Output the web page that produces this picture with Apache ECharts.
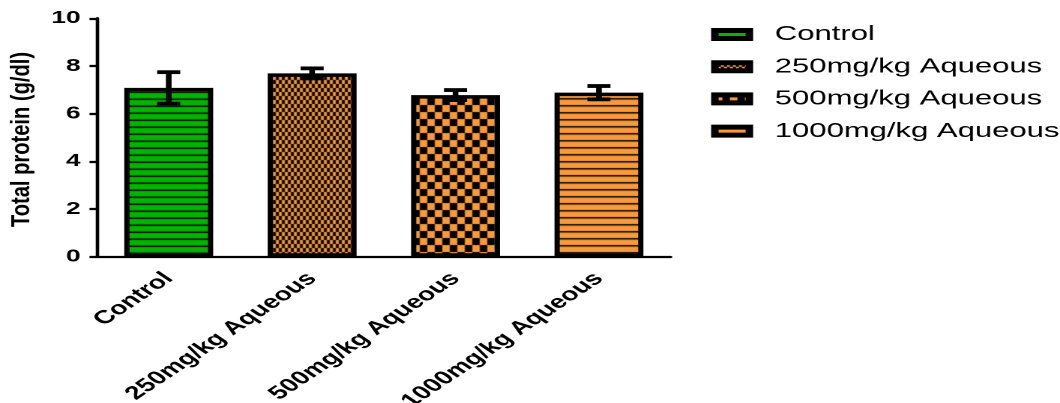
<!DOCTYPE html>
<html>
<head>
<meta charset="utf-8">
<script src="https://cdn.jsdelivr.net/npm/echarts@6/dist/echarts.min.js"></script>
<style>
  html, body { margin: 0; padding: 0; background: #fff; }
  #wrap { width: 1060px; height: 403px; overflow: hidden; position: relative; }
  /* the figure is laid out on a narrower canvas and widened horizontally */
  #chart { width: 707px; height: 403px; transform: scaleX(1.4993); transform-origin: 0 0; }
</style>
</head>
<body>
<div id="wrap"><div id="chart"></div></div>
<script>
// Groups, mean total protein (g/dl) and error (SD)
const categories = ['Control', '250mg/kg Aqueous', '500mg/kg Aqueous', '1000mg/kg Aqueous'];
const means = [7.08, 7.69, 6.78, 6.88];
const errors = [0.66, 0.21, 0.21, 0.28];
const yMin = 0, yMax = 10, yStep = 2;
const yTitle = 'Total protein (g/dl)';

const GREEN = '#00B400';
const ORANGE = '#F99A3A';
const FONT = '"Liberation Sans", Arial, sans-serif';

function tile(w, h, draw) {
  const c = document.createElement('canvas');
  c.width = w; c.height = h;
  draw(c.getContext('2d'));
  return c;
}
// horizontal stripes
const stripesGreen = tile(4, 7, ctx => {
  ctx.fillStyle = GREEN; ctx.fillRect(0, 0, 4, 7);
  ctx.fillStyle = '#045a04'; ctx.fillRect(0, 0, 4, 1);
  ctx.fillStyle = '#000'; ctx.fillRect(0, 1, 4, 1);
});
const stripesOrange = tile(4, 7, ctx => {
  ctx.fillStyle = ORANGE; ctx.fillRect(0, 0, 4, 7);
  ctx.fillStyle = '#000'; ctx.fillRect(0, 0, 4, 1);
  ctx.fillStyle = '#7a4e22'; ctx.fillRect(0, 1, 4, 1);
});
// fine and coarse checkerboards
function checker(cw, ch) {
  return tile(cw * 2, ch * 2, ctx => {
    ctx.fillStyle = ORANGE; ctx.fillRect(0, 0, cw * 2, ch * 2);
    ctx.fillStyle = '#000';
    ctx.fillRect(cw, 0, cw, ch);
    ctx.fillRect(0, ch, cw, ch);
  });
}
const fineChecker = checker(2, 4);
const coarseChecker = checker(5, 7);

const fills = [stripesGreen, fineChecker, coarseChecker, stripesOrange];

const barSeries = categories.map((name, i) => ({
  type: 'bar',
  name: name,
  data: categories.map((c, j) => (j === i ? means[i] : '-')),
  barWidth: '62%',
  barGap: '-100%',
  itemStyle: {
    color: { image: fills[i], repeat: 'repeat' },
    borderColor: '#000',
    borderWidth: 3.5
  },
  emphasis: { disabled: true },
  z: 2
}));

const errorSeries = {
  type: 'custom',
  name: 'error',
  data: means.map((m, i) => [i, m - errors[i], m + errors[i]]),
  renderItem: (params, api) => {
    const x = api.coord([api.value(0), 0])[0];
    const lo = api.coord([api.value(0), api.value(1)])[1];
    const hi = api.coord([api.value(0), api.value(2)])[1];
    const hw = 7.7;
    const st = { stroke: '#000', lineWidth: 3.8 };
    return {
      type: 'group',
      children: [
        { type: 'line', shape: { x1: x, y1: lo, x2: x, y2: hi }, style: st },
        { type: 'line', shape: { x1: x - hw, y1: hi, x2: x + hw, y2: hi }, style: st },
        { type: 'line', shape: { x1: x - hw, y1: lo, x2: x + hw, y2: lo }, style: st }
      ]
    };
  },
  z: 5,
  silent: true
};

const chart = echarts.init(document.getElementById('chart'), null, { renderer: 'canvas', devicePixelRatio: 2 });
chart.setOption({
  animation: false,
  backgroundColor: '#fff',
  grid: {
    left: 64.7, right: 259.7, top: 18.3, bottom: 146.3,
    containLabel: false,
    outerBoundsMode: 'none'
  },
  legend: {
    data: categories,
    orient: 'vertical',
    left: 476 - 6.7,
    top: 19,
    icon: 'rect',
    itemWidth: 23,
    itemHeight: 8,
    itemGap: 11.2,
    itemStyle: { borderColor: '#000', borderWidth: 5 },
    textStyle: {
      fontFamily: FONT,
      fontSize: 20.7,
      color: '#000',
      padding: [0, 0, 0, 12]
    },
    selectedMode: false
  },
  xAxis: {
    type: 'category',
    data: categories,
    axisLine: { lineStyle: { color: '#000', width: 2.3 } },
    axisTick: { alignWithLabel: true, length: 5, lineStyle: { color: '#000', width: 2.3 } },
    axisLabel: {
      interval: 0,
      rotate: 45,
      margin: 19,
      color: '#000',
      fontFamily: FONT,
      fontWeight: 'bold',
      fontSize: 18.7
    },
    splitLine: { show: false }
  },
  yAxis: {
    type: 'value',
    min: yMin,
    max: yMax,
    interval: yStep,
    axisLine: { show: true, lineStyle: { color: '#000', width: 2.3 } },
    axisTick: { show: true, length: 5, lineStyle: { color: '#000', width: 2.3 } },
    axisLabel: {
      margin: 11,
      color: '#000',
      fontFamily: FONT,
      fontWeight: 'bold',
      fontSize: 17.5
    },
    splitLine: { show: false }
  },
  graphic: [{
    type: 'text',
    x: 14.7,
    y: 139.5,
    rotation: Math.PI / 2,
    scaleX: 1.15,
    scaleY: 1,
    style: {
      text: yTitle,
      font: 'bold 17.5px ' + FONT,
      fill: '#000',
      textAlign: 'center',
      textVerticalAlign: 'middle'
    }
  }],
  series: [...barSeries, errorSeries]
});
</script>
</body>
</html>
